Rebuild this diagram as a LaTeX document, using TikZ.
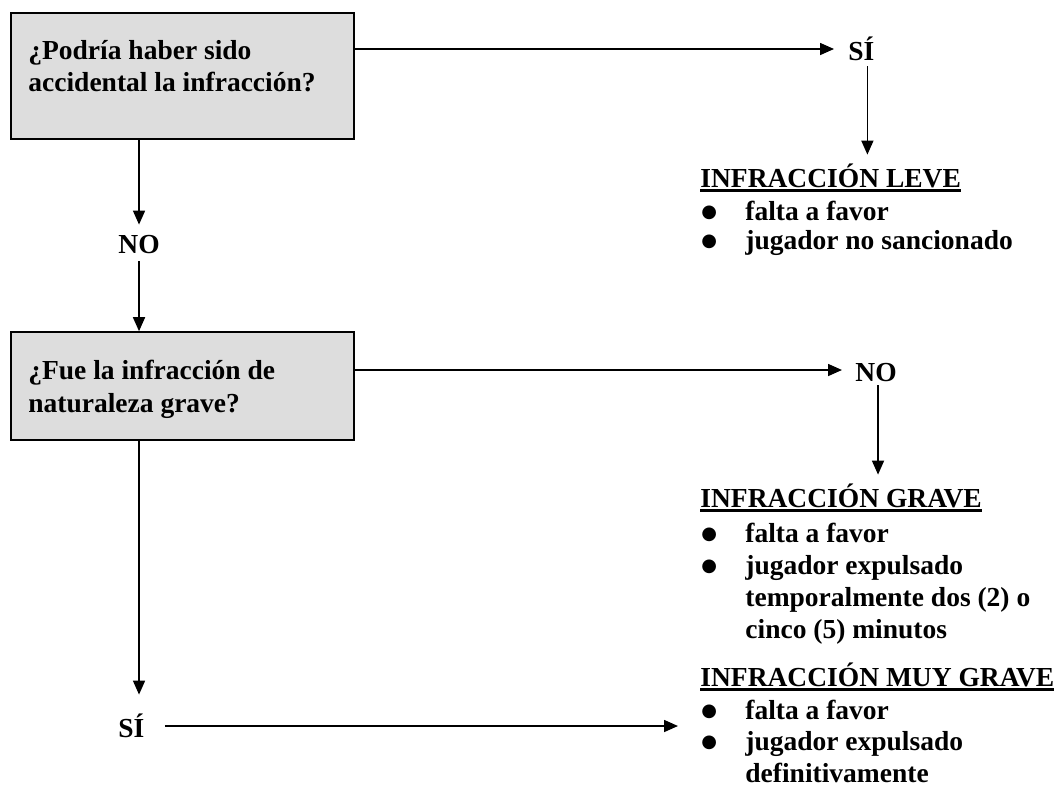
\documentclass[tikz,border=0pt]{standalone}
\usepackage{fontspec}
\setmainfont{Liberation Serif}
\newfontfamily\dotfont{DejaVu Sans}
\usetikzlibrary{arrows.meta}
\definecolor{boxgray}{HTML}{DDDDDD}
\newcommand{\heavyul}[1]{\setbox0=\hbox{#1}\rlap{\rule[-2.3pt]{\wd0}{1.5pt}}\box0}
\newcommand{\bul}{\makebox[22pt][l]{\raisebox{1.5pt}{\dotfont\fontsize{9}{9}\selectfont ●}}}
\tikzset{
    qbox/.style={draw, fill=boxgray, line width=0.8pt, minimum width=171.5pt, inner sep=0pt},
    txt/.style={anchor=base west, inner sep=0pt, font=\fontsize{13.75}{16}\selectfont\bfseries},
    lbl/.style={txt, text height=11pt, text depth=0pt},
    link/.style={line width=0.8pt, -{Triangle[length=7pt, width=6pt]}}
}
\begin{document}
\begin{tikzpicture}[x=0.5pt, y=-0.5pt]
        \useasboundingbox (0,0) rectangle (1060,804);

        \node[qbox, minimum height=63pt] (q1) at (182.5,76) {};
        \node[txt] (q1a) at (28,59) {¿Podría haber sido};
        \node[txt] (q1b) at (28,91) {accidental la infracción?};
        \node[qbox, minimum height=54pt] (q2) at (182.5,386) {};
        \node[txt] (q2a) at (28,379) {¿Fue la infracción de};
        \node[txt] (q2b) at (28,412) {naturaleza grave?};

        \node[lbl] (y1) at (848,60) {SÍ};
        \node[lbl] (n1) at (118,253) {NO};
        \node[lbl] (n2) at (855,381) {NO};
        \node[lbl] (y2) at (118,737) {SÍ};

        \node[lbl] (t1) at (700,187) {\heavyul{INFRACCIÓN LEVE}};
        \node[txt] (r1a) at (701,220) {\bul falta a favor};
        \node[txt] (r1b) at (701,249) {\bul jugador no sancionado};

        \node[lbl] (t2) at (700,507) {\heavyul{INFRACCIÓN GRAVE}};
        \node[txt] (r2a) at (701,542) {\bul falta a favor};
        \node[txt] (r2b) at (701,574) {\bul jugador expulsado};
        \node[txt] (r2c) at (745,606) {temporalmente dos (2) o};
        \node[txt] (r2d) at (745,638) {cinco (5) minutos};

        \node[lbl] (t3) at (700,686) {\heavyul{INFRACCIÓN MUY GRAVE}};
        \node[txt] (r3a) at (701,719) {\bul falta a favor};
        \node[txt] (r3b) at (701,750) {\bul jugador expulsado};
        \node[txt] (r3c) at (745,782) {definitivamente};

        \draw[link, shorten >=7pt] (q1.east |- y1.west) -- (y1.west);
        \draw[link, shorten <=3pt, shorten >=5pt] ([xshift=3pt]y1.south) -- ([xshift=3pt]y1.south |- t1.north);
        \draw[link, shorten >=3pt] (n1.north |- q1.south) -- (n1.north);
        \draw[link, shorten <=4pt] (n1.south) -- (n1.south |- q2.north);
        \draw[link, shorten >=6.5pt] (q2.east |- n2.west) -- (n2.west);
        \draw[link, shorten <=2pt, shorten >=5pt] ([xshift=1pt]n2.south) -- ([xshift=1pt]n2.south |- t2.north);
        \draw[link, shorten >=10pt] (n1 |- q2.south) -- (n1 |- y2.north);
        \draw[link, shorten <=10pt, shorten >=11pt] (y2.east) -- (y2.east -| t3.west);
\end{tikzpicture}
\end{document}
